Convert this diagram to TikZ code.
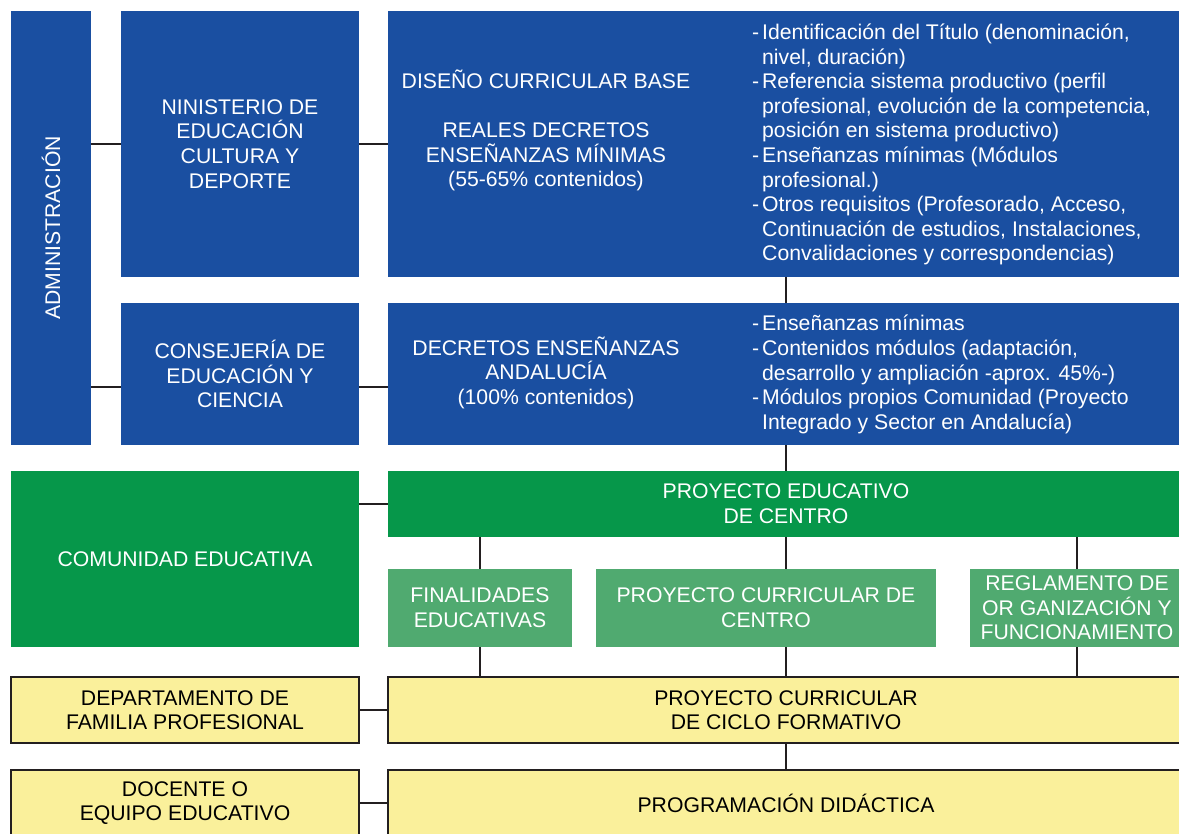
\documentclass[tikz,border=0pt]{standalone}
\usepackage{fontspec}
\setmainfont{Liberation Sans}
\definecolor{azul}{RGB}{26,79,161}
\definecolor{verde}{RGB}{6,151,74}
\definecolor{verdeclaro}{RGB}{80,170,112}
\definecolor{amarillo}{RGB}{250,240,155}
\definecolor{linea}{RGB}{35,31,32}
\newcommand{\guion}{\makebox[10pt][l]{-}}
\newcommand{\sangria}{\hspace*{10pt}}
\tikzset{
	caja/.style={anchor=north west, inner sep=0pt, outer sep=0pt, align=center, text=white,
		font=\fontsize{21.2}{24.6}\selectfont},
	cajaazul/.style={caja, fill=azul},
	cajaverde/.style={caja, fill=verde},
	cajaclara/.style={caja, fill=verdeclaro},
	cajaamarilla/.style={caja, fill=amarillo, draw=linea, line width=2pt, text=black},
	rotulo/.style={inner sep=0pt, align=center, text=white, font=\fontsize{21.2}{24.6}\selectfont},
	lista/.style={anchor=west, inner sep=0pt, align=left, text=white, font=\fontsize{21.2}{24.6}\selectfont},
	enlace/.style={draw=linea, line width=2.5pt}
}
\begin{document}
\begin{tikzpicture}[x=1pt, y=-1pt]
	\useasboundingbox (0,0) rectangle (1179,834);
	\fill[white] (0,0) rectangle (1179,834);

	% administracion
	\node (admin) [cajaazul, minimum width=80pt, minimum height=434pt] at (11,11) {};
	\node [rotulo, rotate=90] at (admin) {ADMINISTRACIÓN};
	\node (minis) [cajaazul, minimum width=238pt, minimum height=266pt] at (121,11) {NINISTERIO DE\\EDUCACIÓN\\CULTURA Y\\DEPORTE};
	\node (cons) [cajaazul, minimum width=238pt, minimum height=142pt] at (121,303) {CONSEJERÍA DE\\EDUCACIÓN Y\\CIENCIA};
	\node (dcb) [cajaazul, minimum width=796pt, minimum height=266pt] at (388,11) {};
	\node [rotulo] at (546,130.5) {DISEÑO CURRICULAR BASE\\ \mbox{}\\REALES DECRETOS\\ENSEÑANZAS MÍNIMAS\\(55-65\% contenidos)};
	\node [lista] at (752,144.5) {%
		\guion Identificación del Título (denominación,\\
		\sangria nivel, duración)\\
		\guion Referencia sistema productivo (perfil\\
		\sangria profesional, evolución de la competencia,\\
		\sangria posición en sistema productivo)\\
		\guion Enseñanzas mínimas (Módulos\\
		\sangria profesional.)\\
		\guion Otros requisitos (Profesorado, Acceso,\\
		\sangria Continuación de estudios, Instalaciones,\\
		\sangria Convalidaciones y correspondencias)};
	\node (dea) [cajaazul, minimum width=796pt, minimum height=142pt] at (388,303) {};
	\node [rotulo] at (546,372.5) {DECRETOS ENSEÑANZAS\\ANDALUCÍA\\(100\% contenidos)};
	\node [lista] at (752,374.5) {%
		\guion Enseñanzas mínimas\\
		\guion Contenidos módulos (adaptación,\\
		\sangria desarrollo y ampliación -aprox. 45\%-)\\
		\guion Módulos propios Comunidad (Proyecto\\
		\sangria Integrado y Sector en Andalucía)};

	% comunidad educativa
	\node (comun) [cajaverde, minimum width=348pt, minimum height=176pt] at (11,471) {COMUNIDAD EDUCATIVA};
	\node (pec) [cajaverde, minimum width=796pt, minimum height=66pt] at (388,471) {PROYECTO EDUCATIVO\\DE CENTRO};
	\node (fin) [cajaclara, minimum width=184pt, minimum height=78pt] at (388,569) {FINALIDADES\\EDUCATIVAS};
	\node (pcc) [cajaclara, minimum width=340pt, minimum height=78pt] at (596,569) {PROYECTO CURRICULAR DE\\CENTRO};
	\node (reg) [cajaclara, minimum width=214pt, minimum height=78pt] at (970,569) {REGLAMENTO DE\\OR GANIZACIÓN Y\\FUNCIONAMIENTO};

	% departamento y docente
	\node (dep) [cajaamarilla, minimum width=348pt, minimum height=66pt] at (11,677) {DEPARTAMENTO DE\\FAMILIA PROFESIONAL};
	\node (pccf) [cajaamarilla, minimum width=796pt, minimum height=66pt] at (388,677) {PROYECTO CURRICULAR\\DE CICLO FORMATIVO};
	\node (doc) [cajaamarilla, minimum width=348pt, minimum height=66pt] at (11,770) {DOCENTE O\\EQUIPO EDUCATIVO};
	\node (prog) [cajaamarilla, minimum width=796pt, minimum height=66pt] at (388,770) {PROGRAMACIÓN DIDÁCTICA};

	% enlaces
	\draw[enlace] (minis.west -| admin.east) -- (minis.west);
	\draw[enlace] ([yshift=-13pt]cons.west -| admin.east) -- ([yshift=-13pt]cons.west);
	\draw[enlace] (minis.east) -- (minis.east -| dcb.west);
	\draw[enlace] ([yshift=-13pt]cons.east) -- ([yshift=-13pt]cons.east -| dea.west);
	\draw[enlace] (dcb.south) -- (dea.north);
	\draw[enlace] (dea.south) -- (pec.north);
	\draw[enlace] (pec.west -| comun.east) -- (pec.west);
	\draw[enlace] (fin.north |- pec.south) -- (fin.north);
	\draw[enlace] (pec.south) -- (pec.south |- pcc.north);
	\draw[enlace] (reg.north |- pec.south) -- (reg.north);
	\draw[enlace] (fin.south) -- (fin.south |- pccf.north);
	\draw[enlace] (pccf.north |- pcc.south) -- (pccf.north);
	\draw[enlace] (reg.south) -- (reg.south |- pccf.north);
	\draw[enlace] (dep.east) -- (dep.east -| pccf.west);
	\draw[enlace] (pccf.south) -- (prog.north);
	\draw[enlace] (doc.east) -- (doc.east -| prog.west);
\end{tikzpicture}
\end{document}
